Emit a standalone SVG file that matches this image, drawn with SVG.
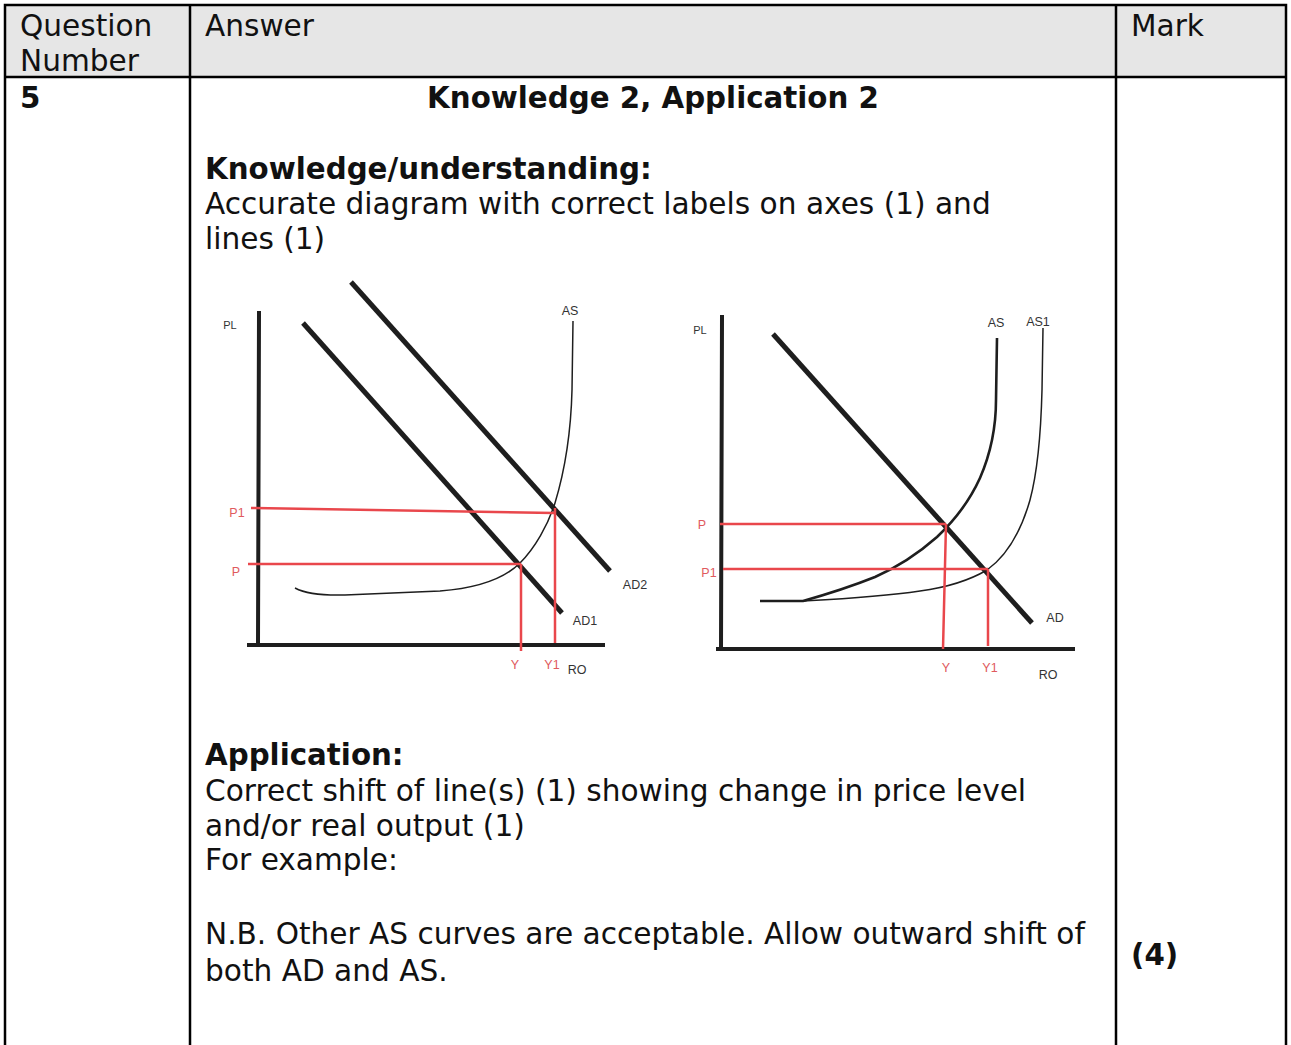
<svg xmlns="http://www.w3.org/2000/svg" width="1291" height="1045" viewBox="0 0 1291 1045">
<style>
.t{font-family:"DejaVu Sans",Verdana,sans-serif;font-size:29.6px;fill:#111}
.b{font-weight:bold;font-size:29.3px}
.grid{stroke:#000;stroke-width:2.5;fill:none}
.lbl{font-family:"Liberation Sans",Arial,sans-serif;font-size:12.5px;fill:#333;text-anchor:middle}
.rl{font-family:"Liberation Sans",Arial,sans-serif;font-size:12.5px;fill:#e05a5d;text-anchor:middle}
.ax{stroke:#1e1e1e;stroke-width:4;fill:none;stroke-linecap:square}
.ad{stroke:#1e1e1e;stroke-width:5;fill:none}
.red{stroke:#e9474c;stroke-width:2.5;fill:none}
.as{stroke:#1e1e1e;stroke-width:1.5;fill:none}
.as2{stroke:#1e1e1e;stroke-width:2.6;fill:none}
</style>
<rect width="1291" height="1045" fill="#fff"/>
<g id="table">
<rect x="5" y="5" width="1281" height="72" fill="#e6e6e6"/>
<path class="grid" d="M5,1045 V5 H1286 V1045 M5,77 H1286 M190,5 V1045 M1116,5 V1045"/>
</g>
<g id="header">
<text class="t" x="20" y="36">Question</text>
<text class="t" x="20" y="71">Number</text>
<text class="t" x="205" y="36">Answer</text>
<text class="t" x="1131" y="36">Mark</text>
</g>
<g id="body">
<text class="t b" x="20" y="108">5</text>
<text class="t b" x="653" y="108" text-anchor="middle">Knowledge 2, Application 2</text>
<text class="t b" x="205" y="179">Knowledge/understanding:</text>
<text class="t" x="205" y="214">Accurate diagram with correct labels on axes (1) and</text>
<text class="t" x="205" y="249">lines (1)</text>
<text class="t b" x="205" y="765">Application:</text>
<text class="t" x="205" y="801">Correct shift of line(s) (1) showing change in price level</text>
<text class="t" x="205" y="836">and/or real output (1)</text>
<text class="t" x="205" y="870">For example:</text>
<text class="t" x="205" y="944">N.B. Other AS curves are acceptable. Allow outward shift of</text>
<text class="t" x="205" y="981">both AD and AS.</text>
<text class="t b" x="1131" y="965">(4)</text>
</g>
<g id="diagram-left">
<path class="ax" d="M259,313 L258,645 M249,645 H603"/>
<path class="ad" d="M303,323 L562,613"/>
<path class="ad" d="M351,282 L610,571"/>
<path class="as" d="M295,588 Q310,596 345,595 L440,591 C480,588 505,578 520,563 C535,548 548,525 555,503 C565,470 571,430 572,390 L573,321"/>
<path class="red" d="M251,508 L554,513 M248,564 H521 M521,564 V651 M555,508 V643"/>
<text class="lbl" x="230" y="329" style="font-size:11px">PL</text>
<text class="rl" x="237" y="517">P1</text>
<text class="rl" x="236" y="576">P</text>
<text class="lbl" x="570" y="315">AS</text>
<text class="lbl" x="635" y="589">AD2</text>
<text class="lbl" x="585" y="625">AD1</text>
<text class="rl" x="515" y="669">Y</text>
<text class="rl" x="552" y="669">Y1</text>
<text class="lbl" x="577" y="674">RO</text>
</g>
<g id="diagram-right">
<path class="ax" d="M722,317 L721,649 M718,649 H1073"/>
<path class="ad" d="M773,334 L1032,623"/>
<path class="as2" d="M760,601 L803,601 C835,592 855,585 875,577 C900,566 920,552 937,537 C955,520 970,500 980,478 C990,455 996,430 996,400 L997,338"/>
<path class="as" d="M760,601 L803,601 C840,599 880,597 920,591 C950,587 970,580 987,570 C1005,557 1020,535 1030,500 C1038,470 1041,430 1042,390 L1043,328"/>
<path class="red" d="M720,524 H946 M946,524 L943,649 M723,569 H988 M988,569 V646"/>
<text class="lbl" x="700" y="334" style="font-size:11px">PL</text>
<text class="rl" x="702" y="529">P</text>
<text class="rl" x="709" y="577">P1</text>
<text class="lbl" x="996" y="327">AS</text>
<text class="lbl" x="1038" y="326">AS1</text>
<text class="lbl" x="1055" y="622">AD</text>
<text class="rl" x="946" y="672">Y</text>
<text class="rl" x="990" y="672">Y1</text>
<text class="lbl" x="1048" y="679">RO</text>
</g>
</svg>
